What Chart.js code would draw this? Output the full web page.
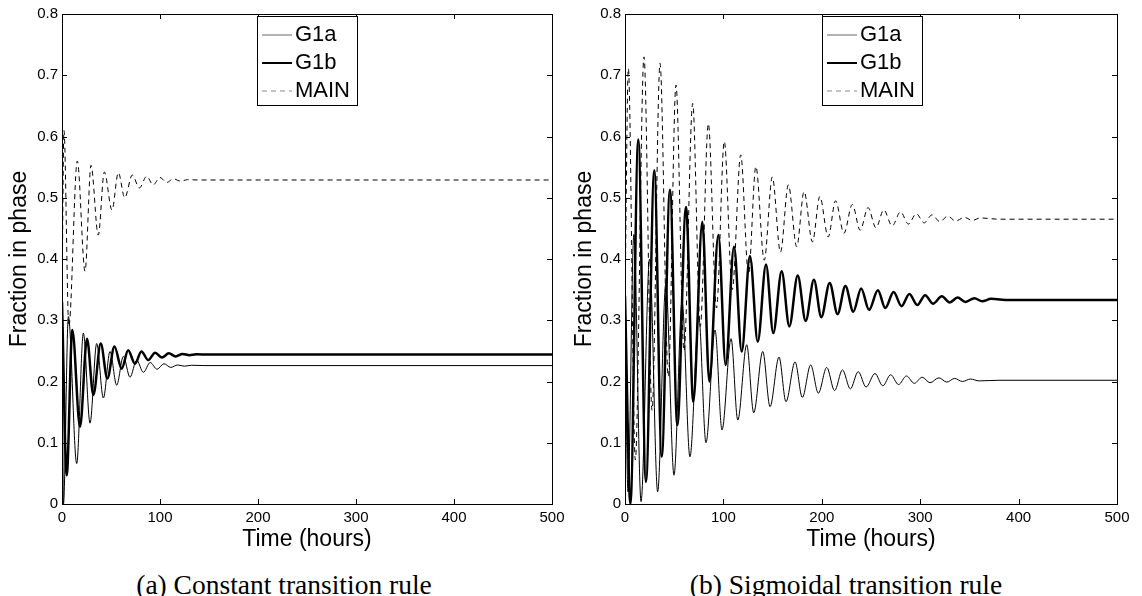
<!DOCTYPE html>
<html>
<head>
<meta charset="utf-8">
<script src="https://cdn.jsdelivr.net/npm/chart.js@4.4.0/dist/chart.umd.min.js"></script>
<style>
html, body { margin: 0; padding: 0; background: #fff; }
#wrap { position: relative; width: 1142px; height: 596px; overflow: hidden; }
canvas { position: absolute; top: 0; }
.cap {
    position: absolute; top: 569px; line-height: 32px;
    font-family: "Liberation Serif", "DejaVu Serif", serif; font-size: 27.5px;
    white-space: nowrap; transform: translateX(-50%); color: #000;
}
</style>
</head>
<body>
<div id="wrap">
    <canvas id="chartA" width="571" height="560" style="left:0"></canvas>
    <canvas id="chartB" width="571" height="560" style="left:571px"></canvas>
    <div class="cap" style="left:284px">(a) Constant transition rule</div>
    <div class="cap" style="left:846px">(b) Sigmoidal transition rule</div>
</div>
<script>
// axis ticks
const xTicks = [0, 100, 200, 300, 400, 500];
const xTickLabels = ['0', '100', '200', '300', '400', '500'];
const yTicks = [0, 0.1, 0.2, 0.3, 0.4, 0.5, 0.6, 0.7, 0.8];
const yTickLabels = ['0', '0.1', '0.2', '0.3', '0.4', '0.5', '0.6', '0.7', '0.8'];
const seriesNames = ['G1a', 'G1b', 'MAIN'];

// (a) constant rule - peaks/troughs
const constG1aT = [0, 1.5, 6.5, 15, 21.8, 28.6, 35.4, 42.2, 49, 55.8, 62.6, 69.4, 76.2, 83, 90, 97, 104, 111, 118, 125, 132, 145, 500];
const constG1aV = [0.37, 0.0, 0.306, 0.066, 0.279, 0.132, 0.262, 0.173, 0.249, 0.194, 0.241, 0.207, 0.235, 0.215, 0.231, 0.22, 0.229, 0.223, 0.227, 0.225, 0.2265, 0.226, 0.226];
const constG1bT = [0, 4.8, 10.5, 18.4, 25.5, 32, 39.5, 46.3, 53.5, 60.9, 67.5, 74.5, 81, 88, 95, 102, 109, 116, 123, 130, 137, 150, 500];
const constG1bV = [0.33, 0.047, 0.284, 0.126, 0.27, 0.178, 0.262, 0.205, 0.257, 0.221, 0.251, 0.229, 0.249, 0.235, 0.247, 0.239, 0.246, 0.241, 0.245, 0.243, 0.2445, 0.244, 0.244];
const constMainT = [0, 2, 7, 15.6, 23.5, 29.6, 37, 43.2, 51, 57.5, 64, 71.7, 79, 86.4, 93, 100, 107, 113.6, 121, 128, 140, 500];
const constMainV = [0.33, 0.61, 0.29, 0.56, 0.38, 0.553, 0.439, 0.542, 0.48, 0.541, 0.50, 0.537, 0.516, 0.535, 0.521, 0.533, 0.525, 0.531, 0.527, 0.5295, 0.529, 0.529];

// (b) sigmoidal rule
const sigG1aT = [0, 3, 9, 16.3, 25, 33.2, 41.5, 49.8, 58, 66, 75, 82.3, 91.5, 98.6, 107.8, 114.6, 123.7, 130.8, 140, 147.4, 156.5, 163.6, 172.8, 180.2, 188.7, 196.5, 205, 213, 221, 229, 237, 245, 254, 262, 270, 278, 286, 294, 302, 310, 319, 327, 335, 343, 351, 360, 380, 500];
const sigG1aV = [0.33, 0.02, 0.44, 0.004, 0.40, 0.02, 0.36, 0.047, 0.33, 0.077, 0.305, 0.10, 0.284, 0.121, 0.270, 0.137, 0.26, 0.149, 0.249, 0.159, 0.24, 0.167, 0.232, 0.174, 0.227, 0.181, 0.223, 0.185, 0.219, 0.188, 0.216, 0.191, 0.213, 0.193, 0.211, 0.195, 0.209, 0.197, 0.207, 0.198, 0.206, 0.199, 0.205, 0.2, 0.204, 0.201, 0.202, 0.202];
const sigG1bT = [0, 5.5, 13.5, 21.3, 29.8, 37.3, 45.7, 53.2, 62, 69.4, 78.6, 85.7, 94.9, 102.3, 110.8, 118.6, 127, 134.9, 143.3, 150.7, 159.2, 167, 175.5, 183.6, 192, 199.5, 208, 216, 224, 232, 240, 248, 257, 264.5, 273, 281, 289, 297, 305, 313, 322, 330, 338, 346, 355, 363, 372, 390, 500];
const sigG1bV = [0.34, 0.0, 0.595, 0.036, 0.545, 0.077, 0.513, 0.129, 0.485, 0.167, 0.461, 0.20, 0.439, 0.227, 0.42, 0.249, 0.405, 0.265, 0.391, 0.279, 0.380, 0.29, 0.373, 0.299, 0.366, 0.305, 0.361, 0.31, 0.356, 0.314, 0.352, 0.317, 0.349, 0.32, 0.346, 0.323, 0.343, 0.325, 0.341, 0.327, 0.339, 0.329, 0.337, 0.330, 0.336, 0.331, 0.335, 0.333, 0.333];
const sigMainT = [0, 3.4, 10.5, 19.3, 27.5, 35.6, 44, 51.8, 60, 68.8, 76.5, 84.7, 93, 100.9, 109, 117.6, 125.5, 133, 141.5, 149.7, 158, 166, 174.5, 182, 190.5, 198, 206.5, 214, 222.5, 231, 239, 247, 255, 263, 271.5, 280, 288, 296, 304, 312, 320, 328, 336, 345, 353, 361, 380, 500];
const sigMainV = [0.33, 0.711, 0.072, 0.730, 0.153, 0.7195, 0.208, 0.684, 0.25, 0.654, 0.29, 0.621, 0.32, 0.592, 0.35, 0.570, 0.375, 0.551, 0.398, 0.534, 0.411, 0.521, 0.42, 0.51, 0.428, 0.502, 0.436, 0.495, 0.442, 0.489, 0.447, 0.484, 0.451, 0.480, 0.454, 0.477, 0.457, 0.474, 0.459, 0.472, 0.461, 0.470, 0.462, 0.468, 0.463, 0.467, 0.465, 0.465];

const sansFont = '"Liberation Sans", Arial, Helvetica, sans-serif';

function toPoints(ts, vs) {
    return ts.map((t, i) => ({ x: t, y: vs[i] }));
}

function makeDatasets(g1aT, g1aV, g1bT, g1bV, mainT, mainV) {
    const common = { pointRadius: 0, cubicInterpolationMode: 'monotone', borderColor: '#000', fill: false };
    return [
        Object.assign({ label: seriesNames[0], data: toPoints(g1aT, g1aV), borderWidth: 1, keyColor: '#666', keyWidth: 1 }, common),
        Object.assign({ label: seriesNames[1], data: toPoints(g1bT, g1bV), borderWidth: 2.5, keyColor: '#000', keyWidth: 2 }, common),
        Object.assign({ label: seriesNames[2], data: toPoints(mainT, mainV), borderWidth: 1, borderDash: [5, 4], keyColor: '#888', keyWidth: 1 }, common)
    ];
}

// box, inward ticks and legend, MATLAB style
const matlabBox = {
    id: 'matlabBox',
    afterDatasetsDraw(chart, args, opts) {
        const { ctx, chartArea: a, scales: { x, y } } = chart;
        ctx.save();
        ctx.strokeStyle = '#000';
        ctx.lineWidth = 1;
        ctx.strokeRect(a.left + 0.5, a.top + 0.5, a.right - a.left, a.bottom - a.top);
        ctx.beginPath();
        xTicks.forEach(v => {
            const px = Math.round(x.getPixelForValue(v)) + 0.5;
            ctx.moveTo(px, a.bottom); ctx.lineTo(px, a.bottom - 5);
            ctx.moveTo(px, a.top); ctx.lineTo(px, a.top + 5);
        });
        yTicks.forEach(v => {
            const py = Math.round(y.getPixelForValue(v)) + 0.5;
            ctx.moveTo(a.left, py); ctx.lineTo(a.left + 5, py);
            ctx.moveTo(a.right, py); ctx.lineTo(a.right - 5, py);
        });
        ctx.stroke();

        // legend
        const bx = opts.legendX, by = a.top + 2, bw = 100, bh = 89;
        ctx.fillStyle = '#fff';
        ctx.fillRect(bx, by, bw, bh);
        ctx.strokeStyle = '#000';
        ctx.strokeRect(bx + 0.5, by + 0.5, bw, bh);
        chart.data.datasets.forEach((ds, i) => {
            const yy = by + 19 + i * 28;
            ctx.strokeStyle = ds.keyColor;
            ctx.lineWidth = ds.keyWidth;
            ctx.setLineDash(ds.borderDash || []);
            ctx.beginPath();
            ctx.moveTo(bx + 5, yy);
            ctx.lineTo(bx + 35, yy);
            ctx.stroke();
            ctx.setLineDash([]);
            ctx.fillStyle = '#000';
            ctx.font = '22px ' + sansFont;
            ctx.textBaseline = 'middle';
            ctx.textAlign = 'left';
            ctx.fillText(ds.label, bx + 38, yy);
        });
        ctx.restore();
    }
};

function makeOptions(yWidth, padRight, legendX, yTitlePad) {
    return {
        responsive: false,
        animation: false,
        devicePixelRatio: 1,
        layout: { padding: { left: 0, top: 14, right: padRight, bottom: 0 } },
        plugins: {
            legend: { display: false },
            tooltip: { enabled: false },
            matlabBox: { legendX: legendX }
        },
        scales: {
            x: {
                type: 'linear',
                min: 0,
                max: 500,
                afterBuildTicks: s => { s.ticks = xTicks.map(v => ({ value: v })); },
                afterFit: s => { s.height = 56; },
                grid: { display: false, drawTicks: false },
                border: { display: false },
                ticks: {
                    color: '#000',
                    padding: 5,
                    maxRotation: 0,
                    autoSkip: false,
                    font: { family: sansFont, size: 15 },
                    callback: v => xTickLabels[xTicks.indexOf(v)]
                },
                title: {
                    display: true,
                    text: 'Time (hours)',
                    color: '#000',
                    font: { family: sansFont, size: 23 },
                    padding: { top: 0, bottom: 7 }
                }
            },
            y: {
                type: 'linear',
                min: 0,
                max: 0.8,
                afterBuildTicks: s => { s.ticks = yTicks.map(v => ({ value: v })); },
                afterFit: s => { s.width = yWidth; },
                grid: { display: false, drawTicks: false },
                border: { display: false },
                ticks: {
                    color: '#000',
                    padding: 4,
                    font: { family: sansFont, size: 15 },
                    callback: (v, i) => yTickLabels[i]
                },
                title: {
                    display: true,
                    text: 'Fraction in phase',
                    color: '#000',
                    font: { family: sansFont, size: 23 },
                    padding: { top: yTitlePad, bottom: 0 }
                }
            }
        }
    };
}

document.addEventListener('DOMContentLoaded', function() {
    new Chart(document.getElementById('chartA'), {
        type: 'line',
        data: { datasets: makeDatasets(constG1aT, constG1aV, constG1bT, constG1bV, constMainT, constMainV) },
        options: makeOptions(62, 19, 257, 6),
        plugins: [matlabBox]
    });
    new Chart(document.getElementById('chartB'), {
        type: 'line',
        data: { datasets: makeDatasets(sigG1aT, sigG1aV, sigG1bT, sigG1bV, sigMainT, sigMainV) },
        options: makeOptions(54, 25, 251, 0),
        plugins: [matlabBox]
    });
});
</script>
</body>
</html>
